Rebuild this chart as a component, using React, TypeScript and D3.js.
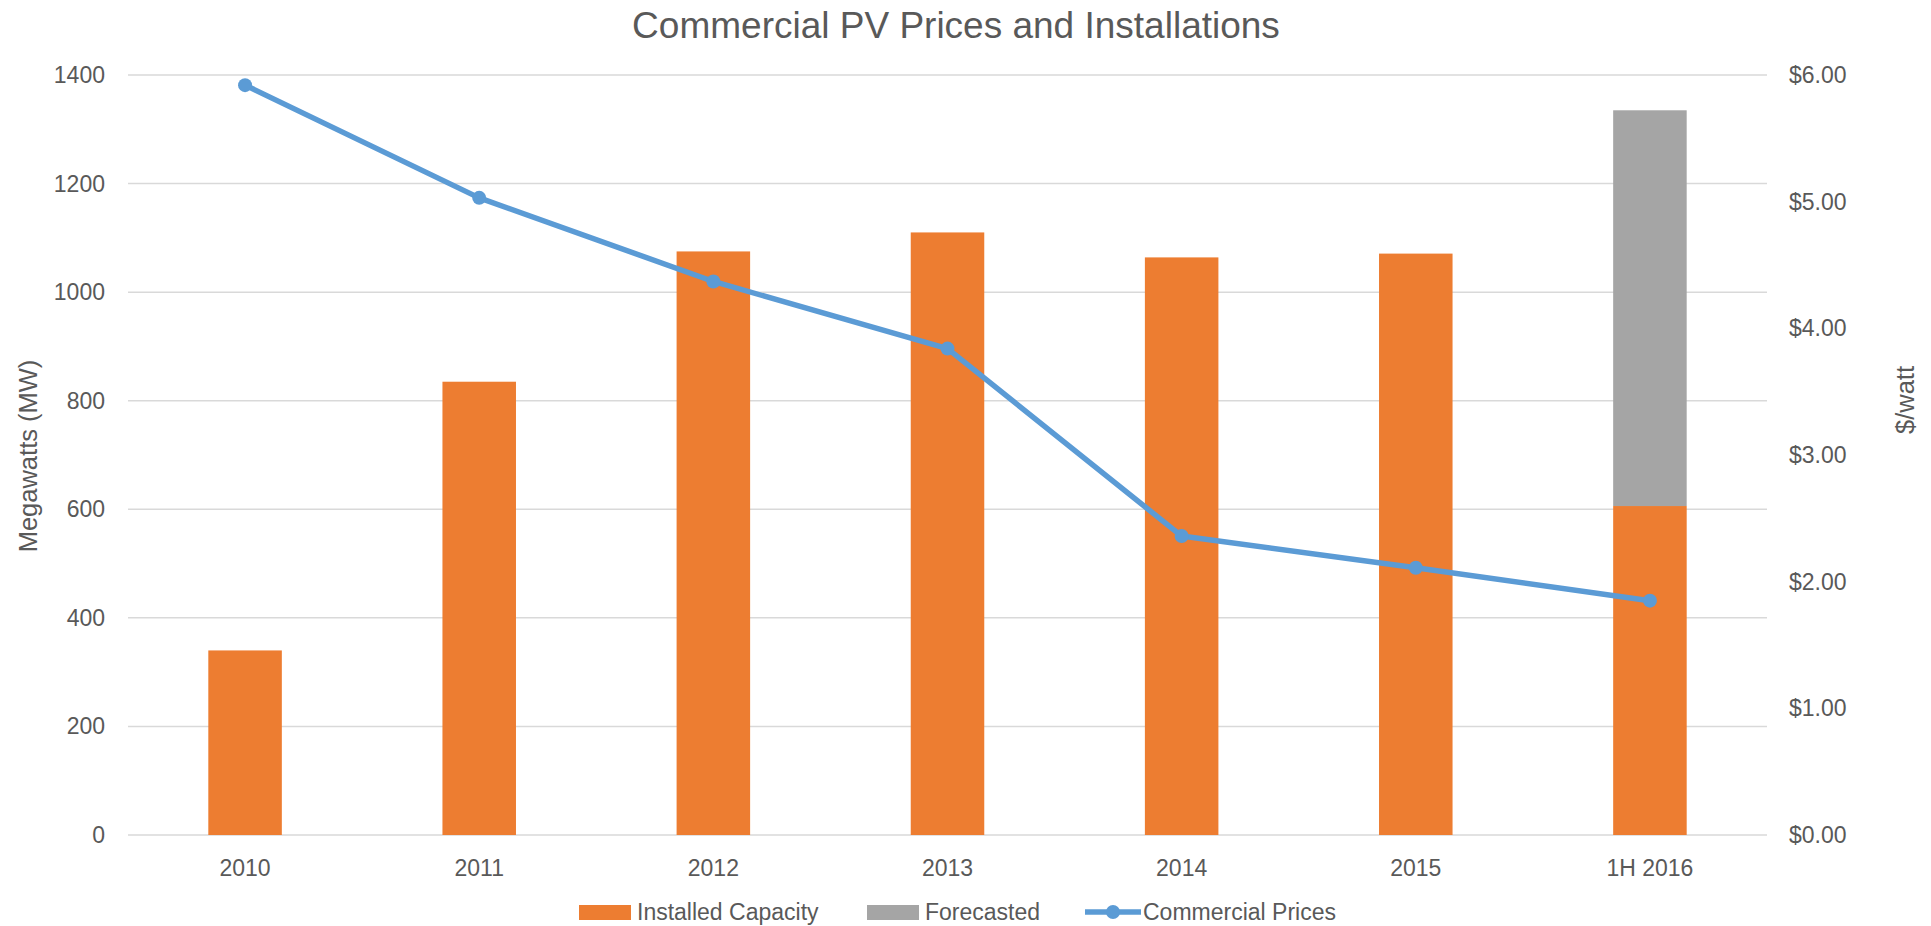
import React from "react";
import * as d3 from "d3";

// chart data
const categories = ["2010", "2011", "2012", "2013", "2014", "2015", "1H 2016"];
const installedCapacity = [340, 835, 1075, 1110, 1064, 1071, 606];
const forecasted = [0, 0, 0, 0, 0, 0, 729];
const commercialPrices = [5.92, 5.03, 4.37, 3.84, 2.36, 2.11, 1.85];
const leftTicks = [0, 200, 400, 600, 800, 1000, 1200, 1400];
const rightTicks = [0, 1, 2, 3, 4, 5, 6];

const App = () => {
  const svgRef = React.useRef<SVGSVGElement | null>(null);
  const width = 1931;
  const height = 926;
  const plot = { left: 128, right: 1767, top: 75, bottom: 835 };
  const font = "'Liberation Sans', Arial, sans-serif";
  const textColor = "#595959";

  React.useEffect(() => {
    const svg = d3.select(svgRef.current);
    svg.selectAll("*").remove();
    svg.attr("width", width).attr("height", height).style("background", "#fff");

    // Scales
    const x = d3
      .scaleBand()
      .domain(categories)
      .range([plot.left, plot.right])
      .paddingInner(0.686)
      .paddingOuter(0.343);
    const yLeft = d3.scaleLinear().domain([0, 1400]).range([plot.bottom, plot.top]);
    const yRight = d3.scaleLinear().domain([0, 6]).range([plot.bottom, plot.top]);

    // gridlines
    svg
      .append("g")
      .selectAll("line")
      .data(leftTicks)
      .enter()
      .append("line")
      .attr("x1", plot.left)
      .attr("x2", plot.right)
      .attr("y1", (d) => yLeft(d))
      .attr("y2", (d) => yLeft(d))
      .style("stroke", "#d9d9d9")
      .style("stroke-width", 1.5);

    // left axis labels
    svg
      .append("g")
      .selectAll("text")
      .data(leftTicks)
      .enter()
      .append("text")
      .attr("x", 105)
      .attr("y", (d) => yLeft(d))
      .attr("dy", "0.35em")
      .attr("text-anchor", "end")
      .style("font-family", font)
      .style("font-size", "23px")
      .style("fill", textColor)
      .text((d) => String(d));

    // right axis labels
    svg
      .append("g")
      .selectAll("text")
      .data(rightTicks)
      .enter()
      .append("text")
      .attr("x", 1789)
      .attr("y", (d) => yRight(d))
      .attr("dy", "0.35em")
      .attr("text-anchor", "start")
      .style("font-family", font)
      .style("font-size", "23px")
      .style("fill", textColor)
      .text((d) => d3.format("$.2f")(d));

    // stacked bars
    const stacked = categories.map((c, i) => ({
      cat: c,
      installed: installedCapacity[i],
      forecast: forecasted[i],
    }));
    const bars = svg.append("g");
    bars
      .selectAll("rect.installed")
      .data(stacked)
      .enter()
      .append("rect")
      .attr("class", "installed")
      .attr("x", (d) => x(d.cat) as number)
      .attr("y", (d) => yLeft(d.installed))
      .attr("width", x.bandwidth())
      .attr("height", (d) => yLeft(0) - yLeft(d.installed))
      .style("fill", "#ED7D31");
    bars
      .selectAll("rect.forecast")
      .data(stacked.filter((d) => d.forecast > 0))
      .enter()
      .append("rect")
      .attr("class", "forecast")
      .attr("x", (d) => x(d.cat) as number)
      .attr("y", (d) => yLeft(d.installed + d.forecast))
      .attr("width", x.bandwidth())
      .attr("height", (d) => yLeft(d.installed) - yLeft(d.installed + d.forecast))
      .style("fill", "#A5A5A5");

    // price line
    const cx = (c: string) => (x(c) as number) + x.bandwidth() / 2;
    const line = d3
      .line<number>()
      .x((_, i) => cx(categories[i]))
      .y((d) => yRight(d));
    svg
      .append("path")
      .datum(commercialPrices)
      .attr("d", line)
      .style("fill", "none")
      .style("stroke", "#5B9BD5")
      .style("stroke-width", 5.5)
      .style("stroke-linejoin", "round");
    svg
      .append("g")
      .selectAll("circle")
      .data(commercialPrices)
      .enter()
      .append("circle")
      .attr("cx", (_, i) => cx(categories[i]))
      .attr("cy", (d) => yRight(d))
      .attr("r", 7)
      .style("fill", "#5B9BD5");

    // x labels
    svg
      .append("g")
      .selectAll("text")
      .data(categories)
      .enter()
      .append("text")
      .attr("x", (d) => cx(d))
      .attr("y", 868)
      .attr("dy", "0.35em")
      .attr("text-anchor", "middle")
      .style("font-family", font)
      .style("font-size", "23px")
      .style("fill", textColor)
      .text((d) => d);

    // title
    svg
      .append("text")
      .attr("x", 956)
      .attr("y", 38)
      .attr("text-anchor", "middle")
      .style("font-family", font)
      .style("font-size", "37px")
      .style("fill", textColor)
      .text("Commercial PV Prices and Installations");

    // axis titles
    svg
      .append("text")
      .attr("transform", "translate(28,456) rotate(-90)")
      .attr("dy", "0.35em")
      .attr("text-anchor", "middle")
      .style("font-family", font)
      .style("font-size", "25.5px")
      .style("fill", textColor)
      .text("Megawatts (MW)");
    svg
      .append("text")
      .attr("transform", "translate(1905,400) rotate(-90)")
      .attr("dy", "0.35em")
      .attr("text-anchor", "middle")
      .style("font-family", font)
      .style("font-size", "25.5px")
      .style("fill", textColor)
      .text("$/watt");

    // legend
    const legendY = 912;
    const legend = svg.append("g");
    legend
      .append("rect")
      .attr("x", 579)
      .attr("y", legendY - 7)
      .attr("width", 52)
      .attr("height", 15)
      .style("fill", "#ED7D31");
    legend
      .append("text")
      .attr("x", 637)
      .attr("y", legendY)
      .attr("dy", "0.35em")
      .style("font-family", font)
      .style("font-size", "23px")
      .style("fill", textColor)
      .text("Installed Capacity");
    legend
      .append("rect")
      .attr("x", 867)
      .attr("y", legendY - 7)
      .attr("width", 52)
      .attr("height", 15)
      .style("fill", "#A5A5A5");
    legend
      .append("text")
      .attr("x", 925)
      .attr("y", legendY)
      .attr("dy", "0.35em")
      .style("font-family", font)
      .style("font-size", "23px")
      .style("fill", textColor)
      .text("Forecasted");
    legend
      .append("line")
      .attr("x1", 1085)
      .attr("x2", 1141)
      .attr("y1", legendY)
      .attr("y2", legendY)
      .style("stroke", "#5B9BD5")
      .style("stroke-width", 5.5);
    legend
      .append("circle")
      .attr("cx", 1113)
      .attr("cy", legendY)
      .attr("r", 7)
      .style("fill", "#5B9BD5");
    legend
      .append("text")
      .attr("x", 1143)
      .attr("y", legendY)
      .attr("dy", "0.35em")
      .style("font-family", font)
      .style("font-size", "23px")
      .style("fill", textColor)
      .text("Commercial Prices");
  }, []);

  return (
    <svg
      ref={svgRef}
      style={{ position: "absolute", left: 0, top: 0, display: "block" }}
    />
  );
};

export default App;
